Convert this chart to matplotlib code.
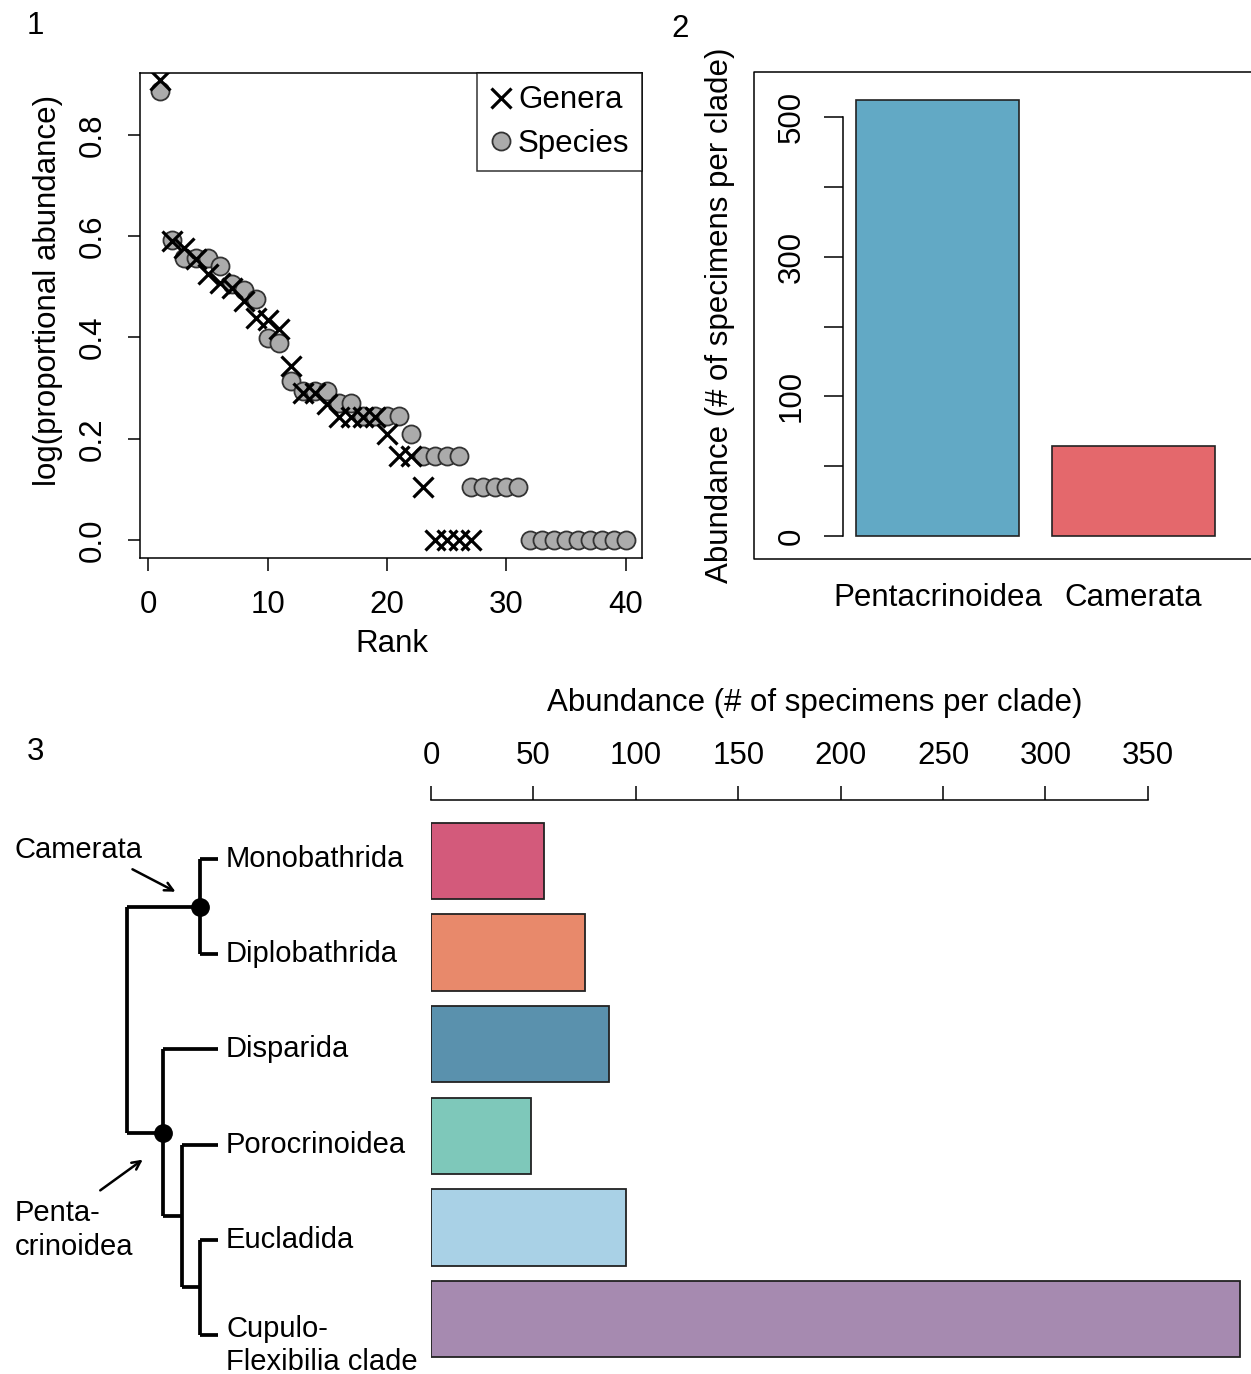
# crinoid abundance: rank-abundance, clade totals, per-clade bars with tree

import matplotlib
matplotlib.use("Agg")
from matplotlib import pyplot as plt
import numpy as np

plt.rcParams['font.family'] = ['Liberation Sans', 'DejaVu Sans']

# panel 1: log(proportional abundance) by rank
species_val = [0.887, 0.592, 0.557, 0.557, 0.557, 0.540, 0.506, 0.494, 0.475, 0.399,
               0.389, 0.314, 0.294, 0.294, 0.294, 0.271, 0.271, 0.245, 0.245, 0.245,
               0.245, 0.209, 0.166, 0.166, 0.166, 0.166, 0.104, 0.104, 0.104, 0.104,
               0.104, 0, 0, 0, 0, 0, 0, 0, 0, 0]
genera_val = [0.908, 0.590, 0.577, 0.555, 0.525, 0.508, 0.498, 0.471, 0.439, 0.435,
              0.416, 0.343, 0.291, 0.291, 0.268, 0.242, 0.242, 0.242, 0.242, 0.209,
              0.166, 0.166, 0.104, 0, 0, 0, 0]
species_rank = np.arange(1, len(species_val) + 1)
genera_rank = np.arange(1, len(genera_val) + 1)

# panel 2: specimens per major clade
major_clades = ["Pentacrinoidea", "Camerata"]
major_counts = [624, 129]
major_colors = ['#62A9C5', '#E4686C']
p2_ticks = [0, 100, 200, 300, 400, 500, 600]
p2_ticklabels = ['0', '', '100', '', '300', '', '500']   # as printed in the figure

# panel 3: specimens per clade
clades = ["Monobathrida", "Diplobathrida", "Disparida", "Porocrinoidea",
          "Eucladida", "Cupulo-\nFlexibilia clade"]
clade_counts = [55, 75, 87, 49, 95, 395]
clade_colors = ['#D35A7B', '#E8896B', '#5A91AD', '#7EC8BA', '#A9D1E6', '#A68AB0']

# tree: internal node -> (children, depth); ints are tips
tree = {
    'root': (['cam', 'pen'], 0),
    'cam': ([0, 1], 4),
    'pen': ([2, 'pec'], 2),
    'pec': ([3, 'ec'], 3),
    'ec': ([4, 5], 4),
}
tip_depth = 5

W, H = 1251, 1374
FS = 22.5
fig = plt.figure(figsize=(W / 100, H / 100), dpi=100)


def px_rect(l, t, r, b):
    return [l / W, 1 - b / H, (r - l) / W, (b - t) / H]


ov = fig.add_axes([0, 0, 1, 1])
ov.set_xlim(0, W)
ov.set_ylim(H, 0)
ov.axis('off')

# ---------- panel 1
ax1 = fig.add_axes(px_rect(140, 73, 642, 558))
ax1.set_facecolor('none')
ax1.plot(species_rank, species_val, 'o', ms=13, mfc='#ABABAB', mec='#333333',
         mew=1.3, label='Species')
ax1.plot(genera_rank, genera_val, 'x', ms=14, mew=2.3, color='black', label='Genera')
ax1.set_xlim(-0.67, 41.34)
ax1.set_ylim(-0.0355, 0.922)
ax1.set_xticks([0, 10, 20, 30, 40])
ax1.set_yticks([0.0, 0.2, 0.4, 0.6, 0.8])
ax1.set_yticklabels(['0.0', '0.2', '0.4', '0.6', '0.8'], rotation=90, va='center')
ax1.tick_params(direction='out', length=9, width=1.1, labelsize=FS, pad=14)
for s in ax1.spines.values():
    s.set_linewidth(1.1)
h, l = ax1.get_legend_handles_labels()
leg = ax1.legend(h[::-1], l[::-1], loc='upper right', fontsize=FS, frameon=True,
                 fancybox=False, edgecolor='black', borderaxespad=0, borderpad=0.4,
                 handlelength=0.7, handletextpad=0.2, labelspacing=0.42)
leg.get_frame().set_linewidth(1.1)
fig.text(392 / W, 1 - 644 / H, 'Rank', ha='center', va='center', fontsize=FS)
fig.text(48 / W, 1 - 290 / H, 'log(proportional abundance)', ha='center', va='center',
         rotation=90, fontsize=FS)

# ---------- panel 2
ax2 = fig.add_axes(px_rect(843, 82.8, 1230, 552.8))
ax2.set_facecolor('none')
ax2.bar([0.7, 1.9], major_counts, width=1, color=major_colors, edgecolor='#222222',
        linewidth=1.2)
ax2.set_xlim(0.12, 2.494)
ax2.set_ylim(-24, 649)
for side in ['top', 'right', 'bottom']:
    ax2.spines[side].set_visible(False)
ax2.spines['left'].set_bounds(0, 600)
ax2.spines['left'].set_linewidth(1.1)
ax2.set_yticks(p2_ticks)
ax2.set_yticklabels(p2_ticklabels, rotation=90, va='center')
ax2.set_xticks([0.7, 1.9])
ax2.set_xticklabels(major_clades)
ax2.tick_params(axis='y', direction='out', length=14, width=1.1, labelsize=FS, pad=12)
ax2.tick_params(axis='x', length=0, labelsize=FS, pad=22)
ov.plot([1253, 754, 754, 1253], [72, 72, 559, 559], color='black', lw=1.1, clip_on=False)
fig.text(720 / W, 1 - 315 / H, 'Abundance (# of specimens per clade)', ha='center',
         va='center', rotation=90, fontsize=FS)

# ---------- panel 3
ax3 = fig.add_axes(px_rect(431, 800, 1245, 1370))
ax3.set_facecolor('none')
ypos = 0.7 + 1.2 * np.arange(len(clades))
ax3.barh(ypos, clade_counts, height=1, color=clade_colors, edgecolor='#222222',
         linewidth=1.3)
ax3.set_xlim(0, 397.4)
ax3.set_ylim(7.368, -0.099)
for side in ['bottom', 'right', 'left']:
    ax3.spines[side].set_visible(False)
ax3.spines['top'].set_bounds(0, 350)
ax3.spines['top'].set_linewidth(1.1)
ax3.xaxis.tick_top()
ax3.set_xticks(np.arange(0, 351, 50))
ax3.set_yticks([])
ax3.tick_params(axis='x', direction='out', length=10, width=1.1, labelsize=FS, pad=11)
fig.text(815 / W, 1 - 703 / H, 'Abundance (# of specimens per clade)', ha='center',
         va='center', fontsize=FS)

# ---------- tree (drawn in overlay pixel space)
def tx(d):
    return 127 + d * 18.2


def ty(r):
    return 859 + r * 95.2


node_y = {}


def get_y(n):
    if isinstance(n, int):
        return n
    if n not in node_y:
        node_y[n] = np.mean([get_y(c) for c in tree[n][0]])
    return node_y[n]


def get_d(n):
    return tip_depth if isinstance(n, int) else tree[n][1]


tl = dict(color='black', lw=2.7, solid_capstyle='butt')
for name, (children, depth) in tree.items():
    ys = [get_y(c) for c in children]
    ov.plot([tx(depth), tx(depth)], [ty(min(ys)), ty(max(ys))], **tl)
    for c in children:
        ov.plot([tx(depth), tx(get_d(c))], [ty(get_y(c)), ty(get_y(c))], **tl)
for n in ['cam', 'pen']:
    ov.plot(tx(tree[n][1]), ty(get_y(n)), 'o', color='black', ms=12.5)

for i, name in enumerate(clades):
    if '\n' in name:
        ov.text(tx(tip_depth) + 8, ty(i) - 20, name, ha='left', va='top', fontsize=21,
                linespacing=1.25)
    else:
        ov.text(tx(tip_depth) + 8, ty(i), name, ha='left', va='center', fontsize=21)

ov.text(15, 850, 'Camerata', ha='left', va='center', fontsize=21)
ov.text(15, 1230, 'Penta-\ncrinoidea', ha='left', va='center', fontsize=21,
        linespacing=1.25)
arr = dict(arrowstyle='->,head_length=0.6,head_width=0.3', color='black', lw=1.8)
ov.annotate('', xy=(178, 893), xytext=(130, 868), arrowprops=arr)
ov.annotate('', xy=(145, 1158), xytext=(98, 1192), arrowprops=arr)

# panel numbers
ov.text(35, 26, '1', ha='center', va='center', fontsize=FS)
ov.text(680, 29, '2', ha='center', va='center', fontsize=FS)
ov.text(35, 752, '3', ha='center', va='center', fontsize=FS)

fig.savefig('out.png', dpi=100)
